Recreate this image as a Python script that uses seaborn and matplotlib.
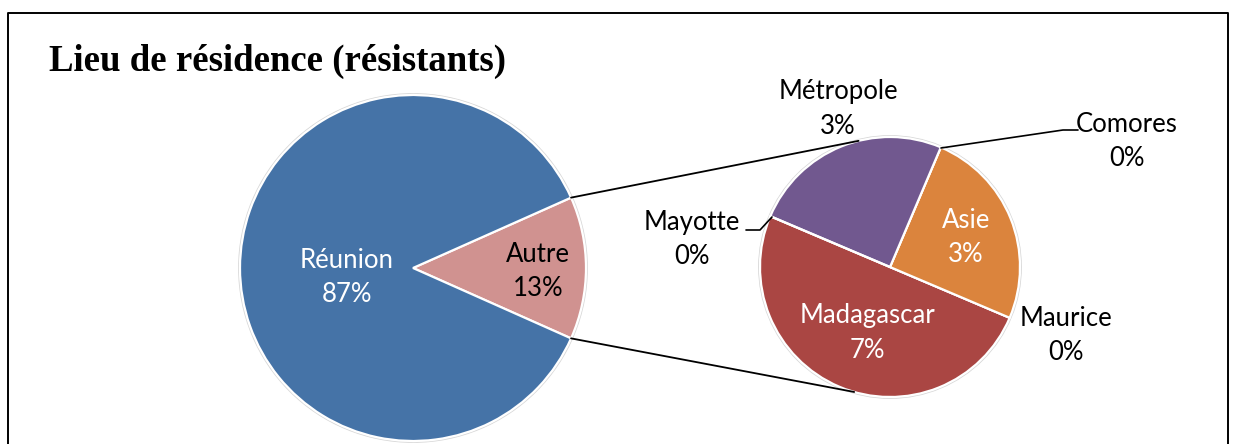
import numpy as np
import matplotlib
matplotlib.use('Agg')
import matplotlib.pyplot as plt
import seaborn as sns

# données (30 résistants)
main_labels = ['Autre', 'Réunion']
main_counts = [4, 26]
sub_labels = ['Madagascar', 'Maurice', 'Asie', 'Comores', 'Métropole', 'Mayotte']
sub_counts = [2, 0, 1, 0, 1, 0]
TOTAL = sum(main_counts)

main_colors = ['#D09290', '#4573A7']
sub_colors = ['#AA4643', '#AA4643', '#DB843D', '#DB843D', '#71588F', '#71588F']

sns.set_theme(style='white')
plt.rcParams['font.family'] = ['Lato', 'DejaVu Sans']
plt.rcParams['text.color'] = 'black'

W, H = 1233, 444
fig = plt.figure(figsize=(W / 100, H / 100), dpi=100)
ax = fig.add_axes([0, 0, 1, 1])


def Y(y):
    # pixel (depuis le haut) -> coordonnée de données
    return H - y


main_c = (413, Y(268))
main_r = 173
sub_c = (890, Y(267))
sub_r = 130

half = main_counts[0] / TOTAL * 360 / 2
ax.pie(main_counts, center=main_c, radius=main_r, startangle=-half,
       counterclock=True, colors=main_colors, frame=True,
       wedgeprops=dict(edgecolor='white', linewidth=1.6))
ax.pie(sub_counts, center=sub_c, radius=sub_r, startangle=157,
       counterclock=True, colors=sub_colors, frame=True,
       wedgeprops=dict(edgecolor='white', linewidth=1.6))

# contour léger
for c, r in [(main_c, main_r), (sub_c, sub_r)]:
    ax.add_patch(plt.Circle(c, r + 1.2, fill=False, edgecolor='#d8d8d8', lw=1.0, zorder=0))

# lignes de liaison
a = np.deg2rad(half)
for sgn, ang in [(1, 104), (-1, -106)]:
    p0 = (main_c[0] + main_r * np.cos(a), main_c[1] + sgn * main_r * np.sin(a))
    p1 = (sub_c[0] + sub_r * np.cos(np.deg2rad(ang)), sub_c[1] + sub_r * np.sin(np.deg2rad(ang)))
    ax.plot([p0[0], p1[0]], [p0[1], p1[1]], color='black', lw=1.3, zorder=5)


def pct(n):
    return f'{round(n / TOTAL * 100):.0f}%'


fs = 18.5
txt = dict(ha='center', va='center', fontsize=fs, linespacing=1.45)
ax.text(347, Y(277), f'Réunion\n{pct(main_counts[1])}', color='white', **txt)
ax.text(538, Y(271), f'Autre\n{pct(main_counts[0])}', color='black', **txt)

sub_pos = {
    'Madagascar': (867, 333, 'white'),
    'Asie': (966, 238, 'white'),
    'Métropole': (838, 109, 'black'),
    'Comores': (1127, 141, 'black'),
    'Mayotte': (692, 240, 'black'),
    'Maurice': (1066, 335, 'black'),
}
for lab, n in zip(sub_labels, sub_counts):
    x, y, col = sub_pos[lab]
    ax.text(x, Y(y), f'{lab}\n{pct(n)}', color=col, **txt)

# lignes de rappel
ax.plot([941, 1063, 1078], [Y(148), Y(130), Y(130)], color='black', lw=1.2)
ax.plot([772, 760, 746], [Y(217), Y(230), Y(230)], color='black', lw=1.2)

ax.text(49, Y(61), 'Lieu de résidence (résistants)', ha='left', va='center',
        fontsize=26.5, fontweight='bold', color='black',
        family=['Liberation Serif', 'DejaVu Serif'])

# cadre
ax.plot([8, 8, 1228, 1228], [-5, Y(13), Y(13), -5], color='black', lw=1.4, clip_on=False)

ax.set_xlim(0, W)
ax.set_ylim(0, H)
ax.set_aspect('equal')
ax.axis('off')

fig.savefig('out.png', dpi=100, facecolor='white')
